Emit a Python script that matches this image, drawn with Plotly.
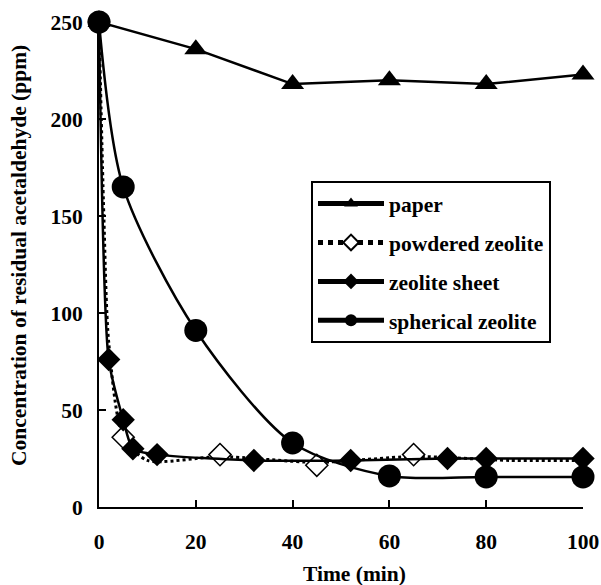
import plotly.graph_objects as go

# ---- data ----
paper_t = [0, 20, 40, 60, 80, 100]
paper_c = [250, 236, 218, 220, 218, 223]

powder_t = [0, 1, 2, 5, 10, 25, 45, 65, 85, 100]
powder_c = [250, 150, 85, 36, 24, 26, 23, 26, 24, 24]
powder_marked = [False, False, False, True, False, True, True, True, False, False]
powder_marker_c = [250, 150, 85, 36, 24, 27, 21.5, 27, 24, 24]

sheet_t = [0, 2, 5, 7, 12, 32, 52, 72, 80, 100]
sheet_c = [250, 76, 45, 30, 27, 24, 24, 25, 25, 25]

sphere_t = [0, 5, 20, 40, 60, 80, 100]
sphere_c = [250, 165, 91, 33, 16, 15.5, 15.5]

x_ticks = [0, 20, 40, 60, 80, 100]
y_ticks = [0, 50, 100, 150, 200, 250]

x_title = "Time (min)"
y_title = "Concentration of residual acetaldehyde (ppm)"

FONT = "Liberation Serif"
FS = 21.5

fig = go.Figure()

fig.add_trace(go.Scatter(
    x=paper_t, y=paper_c, name="<b>paper</b>", mode="lines+markers",
    line=dict(color="black", width=2.5),
    marker=dict(symbol="triangle-up", size=20, color="black"),
    legendgroup="a", cliponaxis=False))

# powdered zeolite: dotted fitted line plus open diamonds at measured points
fig.add_trace(go.Scatter(
    x=powder_t, y=powder_c, name="<b>powdered zeolite</b>", mode="lines",
    line=dict(color="black", width=3, dash="dot", shape="spline", smoothing=0.7),
    legendgroup="b", showlegend=False, cliponaxis=False))
fig.add_trace(go.Scatter(
    x=[t for t, m in zip(powder_t, powder_marked) if m],
    y=[c for c, m in zip(powder_marker_c, powder_marked) if m],
    name="<b>powdered zeolite</b>", mode="markers",
    marker=dict(symbol="diamond", size=17, color="white",
                line=dict(color="black", width=1.5)),
    legendgroup="b", showlegend=False, cliponaxis=False))
# legend entry
fig.add_trace(go.Scatter(
    x=[None], y=[None], name="<b>powdered zeolite</b>", mode="lines+markers",
    line=dict(color="black", width=3, dash="dot"),
    marker=dict(symbol="diamond", size=17, color="white",
                line=dict(color="black", width=1.5)),
    legendgroup="b"))

fig.add_trace(go.Scatter(
    x=sheet_t, y=sheet_c, name="<b>zeolite sheet</b>", mode="lines+markers",
    line=dict(color="black", width=2.5, shape="spline", smoothing=0.6),
    marker=dict(symbol="diamond", size=18, color="black"),
    legendgroup="c", cliponaxis=False))

fig.add_trace(go.Scatter(
    x=sphere_t, y=sphere_c, name="<b>spherical zeolite</b>", mode="lines+markers",
    line=dict(color="black", width=2.5, shape="spline", smoothing=0.8),
    marker=dict(symbol="circle", size=23, color="black"),
    legendgroup="d", cliponaxis=False))

fig.update_layout(
    width=601, height=585,
    margin=dict(l=99, r=18, t=22, b=78),
    paper_bgcolor="white", plot_bgcolor="white",
    font=dict(family=FONT, size=FS, color="black"),
    showlegend=True,
    legend=dict(
        x=(311 - 99) / 484, y=(507 - 181) / 485, xanchor="left", yanchor="top",
        bordercolor="black", borderwidth=2, bgcolor="white",
        font=dict(family=FONT, size=FS, color="black"),
        traceorder="grouped", tracegroupgap=8, itemwidth=66,
        itemsizing="constant"),
    xaxis=dict(
        range=[0, 100], tickvals=x_ticks,
        ticktext=[f"<b>{v}</b>" for v in x_ticks],
        showline=True, linecolor="black", linewidth=2,
        ticks="inside", ticklen=7, tickwidth=2, tickcolor="black",
        showgrid=False, zeroline=False, mirror=False, automargin=False,
        ticklabelstandoff=14),
    yaxis=dict(
        range=[0, 250], tickvals=y_ticks,
        ticktext=[f"<b>{v}</b>" for v in y_ticks],
        showline=True, linecolor="black", linewidth=2,
        ticks="inside", ticklen=7, tickwidth=2, tickcolor="black",
        showgrid=False, zeroline=False, mirror=False, automargin=False,
        ticklabelstandoff=10),
    annotations=[
        dict(text=f"<b>{x_title}</b>", xref="paper", yref="paper",
             x=(354 - 99) / 484, y=(507 - 574) / 485,
             xanchor="center", yanchor="middle", showarrow=False,
             font=dict(family=FONT, size=FS, color="black")),
        dict(text=f"<b>{y_title}</b>", xref="paper", yref="paper",
             x=(19 - 99) / 484, y=(507 - 256) / 485, textangle=-90,
             xanchor="center", yanchor="middle", showarrow=False,
             font=dict(family=FONT, size=FS, color="black")),
    ],
)

fig.write_html("out.html")
